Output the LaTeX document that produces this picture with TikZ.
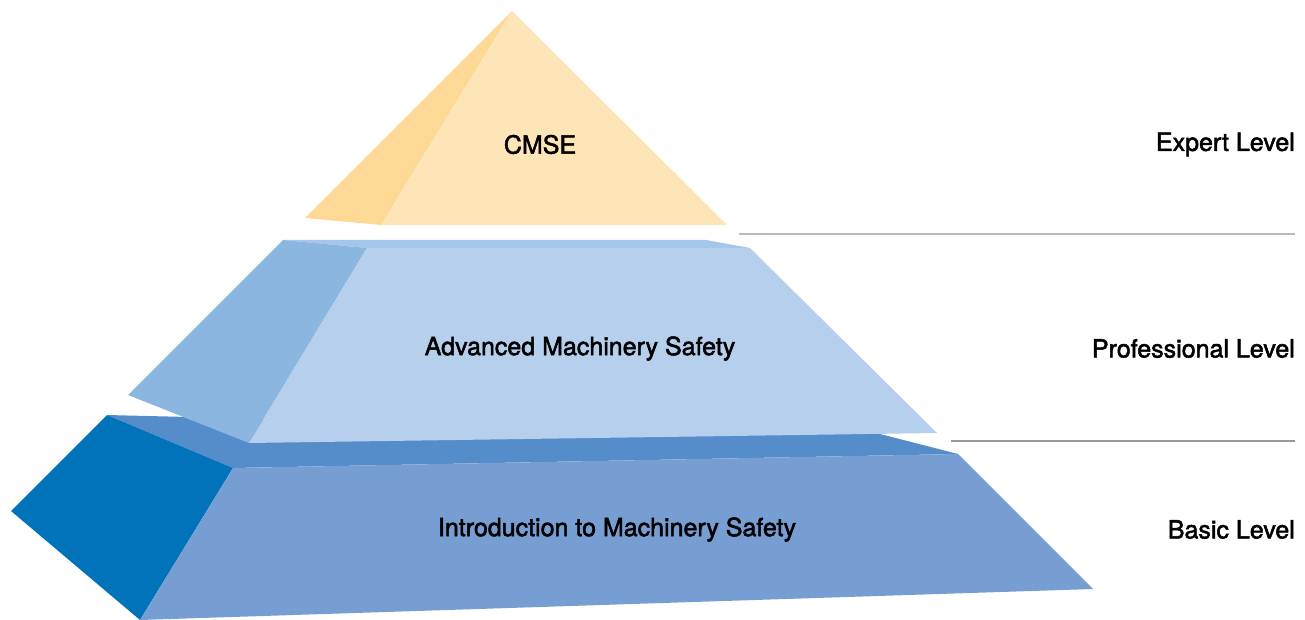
\documentclass[tikz,border=0pt]{standalone}
\usepackage{fontspec}
\setmainfont{TeX Gyre Heros}[UprightFeatures={FakeBold=2}]
\definecolor{tfront}{HTML}{FDE5B8}
\definecolor{tleft}{HTML}{FDD995}
\definecolor{mfront}{HTML}{B6CFEC}
\definecolor{mleft}{HTML}{8BB6E0}
\definecolor{mtop}{HTML}{A4C6EA}
\definecolor{bfront}{HTML}{779ED2}
\definecolor{bleft}{HTML}{0073BA}
\definecolor{btop}{HTML}{558CCA}
\definecolor{rule1}{HTML}{BBBBBB}
\definecolor{rule2}{HTML}{999999}
\tikzset{lbl/.style={font=\fontsize{25}{28}\selectfont, text=black, inner sep=0pt},
  rlbl/.style={lbl, anchor=east}}
\begin{document}
\begin{tikzpicture}[x=1pt,y=-1pt]
\useasboundingbox (0,0) rectangle (1305,620);
% bottom layer
\fill[btop] (107,415) -- (880,434) -- (958,454) -- (233,468) -- cycle;
\fill[bleft] (107,415) -- (233,468) -- (140,620) -- (11,511) -- cycle;
\fill[bfront] (233,468) -- (958,454) -- (1093,589) -- (140,620) -- cycle;
% middle layer
\fill[mtop] (283,240) -- (706,240) -- (750,248) -- (367,248) -- cycle;
\fill[mleft] (283,240) -- (367,248) -- (249,443) -- (128,395) -- cycle;
\fill[mfront] (367,248) -- (750,248) -- (937,433) -- (249,443) -- cycle;
% top
\fill[tleft] (512,11) -- (381,225) -- (305,218) -- cycle;
\fill[tfront] (512,11) -- (727,225) -- (381,225) -- cycle;
% rules
\coordinate (r1a) at (739,234); \coordinate (r1b) at (1295,234);
\coordinate (r2a) at (951,441); \coordinate (r2b) at (1295,441);
\draw[rule1, line width=1.2pt] (r1a) -- (r1b);
\draw[rule2, line width=1.2pt] (r2a) -- (r2b);
% texts
\node[lbl] (cmse) at (540,144.5) {CMSE};
\node[lbl] (adv) at (580,348.5) {Advanced Machinery Safety};
\node[lbl] (intro) at (617,529.5) {Introduction to Machinery Safety};
\node[rlbl] (exp) at (1295,144.5) {Expert Level};
\node[rlbl] (pro) at (1295,348.5) {Professional Level};
\node[rlbl] (bas) at (1295,529.5) {Basic Level};
\end{tikzpicture}
\end{document}
